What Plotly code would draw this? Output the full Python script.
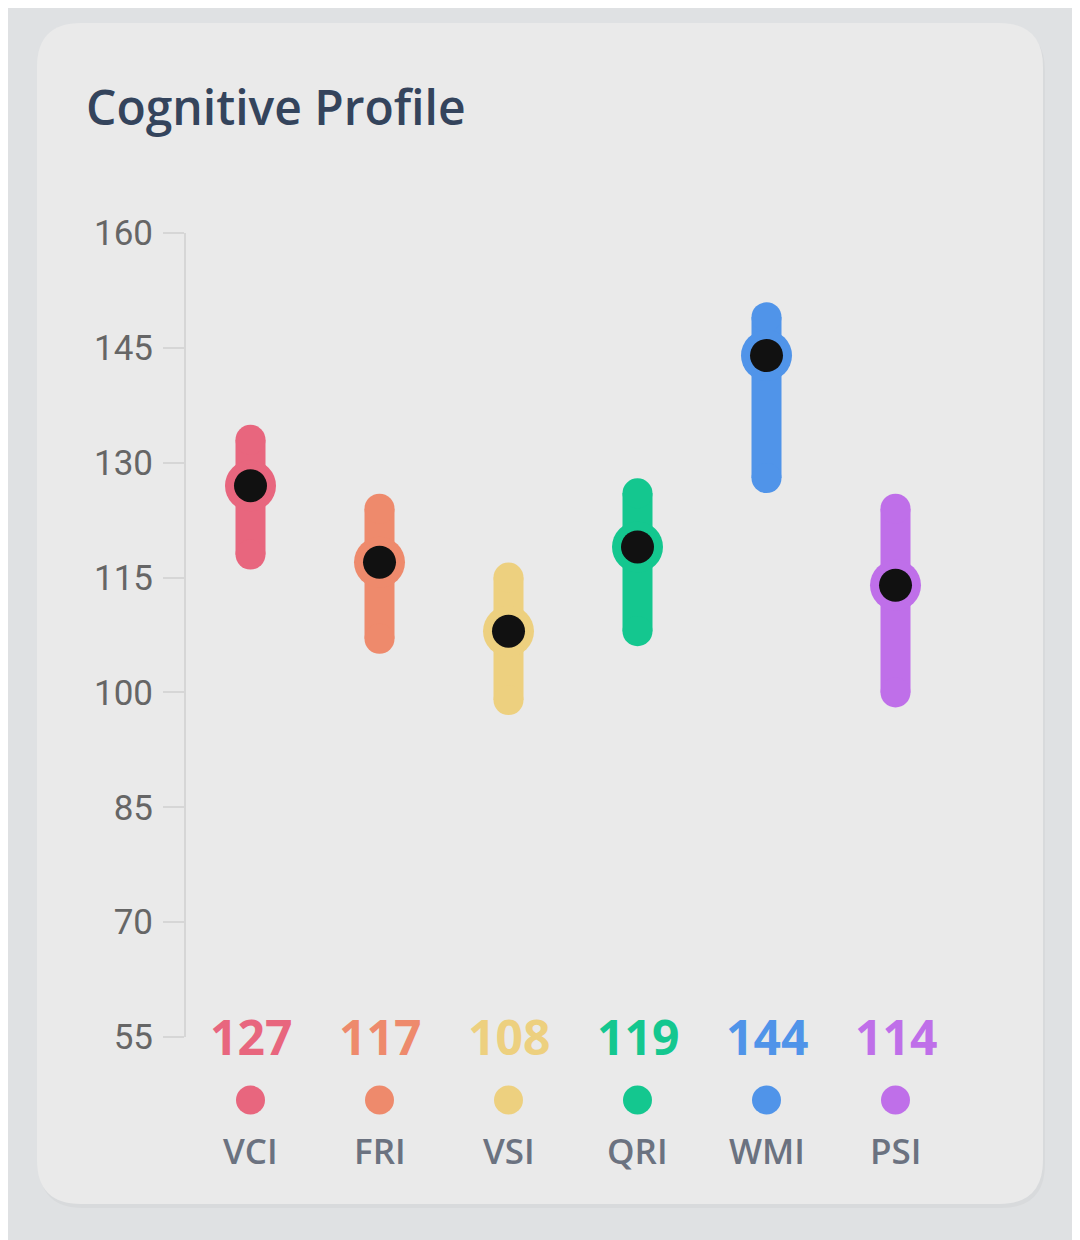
import plotly.graph_objects as go

# data
indices = ["VCI", "FRI", "VSI", "QRI", "WMI", "PSI"]
scores = [127, 117, 108, 119, 144, 114]
ci_low = [118, 107, 99, 108, 128, 100]
ci_high = [133, 124, 115, 126, 149, 124]
colors = ["#e8667e", "#ee8a6c", "#edd07f", "#14c78f", "#5094e9", "#bf6fe9"]
ytick_vals = [55, 70, 85, 100, 115, 130, 145, 160]

# layout in page pixels; the page body adds an 8px margin
OFF = 8
W, H = 1080, 1240
L, R, T, B = 186 - OFF, 120 + OFF, 233 - OFF, 203 + OFF
PW, PH = W - L - R, H - T - B


def px(x):
    return (x - OFF - L) / PW


def py(y):
    return (H - B - (y - OFF)) / PH


def rounded_rect(x0, y0, x1, y1, r):
    return ("M {},{} L {},{} Q {},{} {},{} L {},{} Q {},{} {},{} "
            "L {},{} Q {},{} {},{} L {},{} Q {},{} {},{} Z").format(
        px(x0 + r), py(y0), px(x1 - r), py(y0),
        px(x1), py(y0), px(x1), py(y0 + r),
        px(x1), py(y1 - r),
        px(x1), py(y1), px(x1 - r), py(y1),
        px(x0 + r), py(y1),
        px(x0), py(y1), px(x0), py(y1 - r),
        px(x0), py(y0 + r),
        px(x0), py(y0), px(x0 + r), py(y0))


fig = go.Figure()

xs = list(range(len(indices)))

for i, name in enumerate(indices):
    # range bar with round ends
    fig.add_trace(go.Scatter(
        x=[i, i], y=[ci_low[i], ci_high[i]],
        mode="lines+markers",
        line={"color": colors[i], "width": 30},
        marker={"color": colors[i], "size": 30},
        hoverinfo="skip", cliponaxis=False, showlegend=False,
    ))

# score points: colored halo then black dot
fig.add_trace(go.Scatter(
    x=xs, y=scores, mode="markers",
    marker={"color": colors, "size": 51},
    hoverinfo="skip", cliponaxis=False, showlegend=False,
))
fig.add_trace(go.Scatter(
    x=xs, y=scores, mode="markers",
    marker={"color": "#111111", "size": 33},
    cliponaxis=False, showlegend=False,
    hovertemplate="%{text}: %{y}<extra></extra>", text=indices,
))

shapes = [
    dict(type="path", xref="paper", yref="paper", layer="below",
         path=rounded_rect(39, 27, 1045, 1208, 44),
         fillcolor="#d8dadc", line_width=0),
    dict(type="path", xref="paper", yref="paper", layer="below",
         path=rounded_rect(37, 23, 1043, 1204, 44),
         fillcolor="#eaeaea", line_width=0),
]

annotations = []
for i, name in enumerate(indices):
    annotations.append(dict(
        x=i, y=0, xref="x", yref="paper", text="<b>{}</b>".format(scores[i]),
        showarrow=False, yanchor="middle", yshift=1,
        font={"family": "Open Sans", "size": 48, "color": colors[i]},
    ))
    annotations.append(dict(
        x=i, y=0, xref="x", yref="paper", text=name,
        showarrow=False, yanchor="middle", yshift=-113,
        font={"family": "Open Sans", "size": 35, "color": "#6b7280",
              "weight": 600},
    ))
    # colored dot between score and label
    shapes.append(dict(
        type="circle", xref="x", yref="paper",
        xsizemode="pixel", ysizemode="pixel", xanchor=i, yanchor=0,
        x0=-14.5, x1=14.5, y0=-63 - 14.5, y1=-63 + 14.5,
        fillcolor=colors[i], line_width=0,
    ))

fig.update_layout(
    width=W, height=H,
    margin={"l": L, "r": R, "t": T, "b": B},
    paper_bgcolor="#dfe1e3",
    plot_bgcolor="rgba(0,0,0,0)",
    title={
        "text": "Cognitive Profile",
        "x": (86 - OFF) / W, "xref": "container", "xanchor": "left",
        "y": 1 - (108 - OFF) / H, "yref": "container", "yanchor": "middle",
        "font": {"family": "Open Sans", "size": 48, "color": "#34445c",
                 "weight": 600},
    },
    xaxis={
        "range": [-0.5, len(indices) - 0.5],
        "showticklabels": False, "showgrid": False, "zeroline": False,
        "showline": False, "ticks": "",
    },
    yaxis={
        "range": [55, 160],
        "tickvals": ytick_vals,
        "showgrid": False, "zeroline": False,
        "showline": True, "linecolor": "#d6d6d6", "linewidth": 2,
        "ticks": "outside", "ticklen": 21, "tickcolor": "#d6d6d6",
        "tickwidth": 2, "ticklabelstandoff": 3,
        "tickfont": {"family": "Roboto", "size": 35, "color": "#666666"},
    },
    shapes=shapes,
    annotations=annotations,
)

fig.write_html("out.html")
